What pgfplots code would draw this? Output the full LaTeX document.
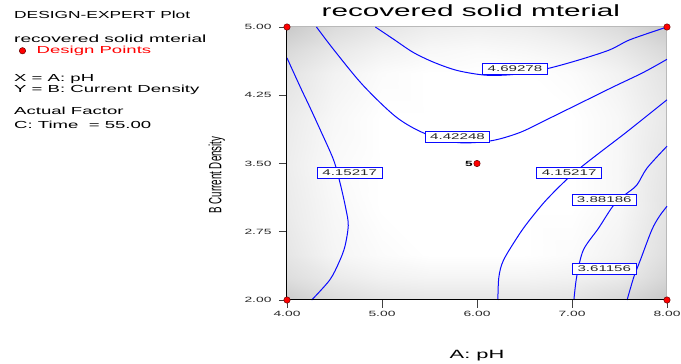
\documentclass[border=0pt]{standalone}
\usepackage{pgfplots}
\pgfplotsset{compat=1.18}
\usepackage{fontspec}
\setmainfont{Liberation Sans}
\newcommand\sx[1]{\scalebox{1.82}[1]{#1}}
\definecolor{cblue}{RGB}{10,10,255}
\tikzset{lbl/.style={draw=cblue, fill=white, line width=0.7pt, inner xsep=5pt, inner ysep=1pt, minimum height=11pt, text=black!85}}
\pgfplotstableread{
x y v
4 2 0.80
4.5 2 0.86
5 2 0.89
5.5 2 0.90
6 2 0.90
6.5 2 0.90
7 2 0.89
7.5 2 0.85
8 2 0.78

4 2.25 0.87
4.5 2.25 0.92
5 2.25 0.95
5.5 2.25 0.96
6 2.25 0.96
6.5 2.25 0.96
7 2.25 0.95
7.5 2.25 0.92
8 2.25 0.84

4 2.5 0.90
4.5 2.5 0.96
5 2.5 0.985
5.5 2.5 1
6 2.5 1
6.5 2.5 1
7 2.5 0.985
7.5 2.5 0.95
8 2.5 0.87

4 3 0.92
4.5 3 0.97
5 3 1
5.5 3 1
6 3 1
6.5 3 1
7 3 1
7.5 3 0.97
8 3 0.89

4 3.5 0.93
4.5 3.5 0.98
5 3.5 1
5.5 3.5 1
6 3.5 1
6.5 3.5 1
7 3.5 1
7.5 3.5 0.97
8 3.5 0.90

4 4 0.92
4.5 4 0.97
5 4 1
5.5 4 1
6 4 1
6.5 4 1
7 4 1
7.5 4 0.97
8 4 0.91

4 4.5 0.89
4.5 4.5 0.95
5 4.5 0.985
5.5 4.5 1
6 4.5 1
6.5 4.5 1
7 4.5 0.985
7.5 4.5 0.95
8 4.5 0.89

4 4.75 0.85
4.5 4.75 0.91
5 4.75 0.95
5.5 4.75 0.97
6 4.75 0.98
6.5 4.75 0.97
7 4.75 0.95
7.5 4.75 0.91
8 4.75 0.85

4 5 0.79
4.5 5 0.86
5 5 0.90
5.5 5 0.93
6 5 0.94
6.5 5 0.93
7 5 0.90
7.5 5 0.86
8 5 0.79
}\bgtable
\begin{document}
\begin{tikzpicture}[x=1pt,y=1pt]
\path[use as bounding box] (0,0) rectangle (681,364);
\begin{axis}[
  at={(287pt,64pt)}, anchor=south west,
  width=380pt, height=273pt, scale only axis,
  xmin=4, xmax=8, ymin=2, ymax=5,
  xtick={4,5,6,7,8}, ytick={2,2.75,3.5,4.25,5},
  axis lines*=left,
  axis line style={black, line width=1pt},
  tick align=outside,
  major tick length=8pt,
  tick style={black!75, line width=0.9pt},
  /pgf/number format/assume math mode=true,
  xticklabel={\sx{\fontsize{7.6}{8}\selectfont\pgfmathprintnumber[fixed,fixed zerofill,precision=2]{\tick}}},
  yticklabel={\sx{\fontsize{7.6}{8}\selectfont\pgfmathprintnumber[fixed,fixed zerofill,precision=2]{\tick}}},
  ticklabel style={text=black!85},
  yticklabel style={xshift=-4pt},
  xlabel={\sx{\fontsize{12}{12}\selectfont A: pH}},
  xlabel style={at={(axis description cs:0.5,-0.216)}, anchor=base},
  ylabel={\scalebox{0.55}[1]{\fontsize{17.7}{18}\selectfont B Current Density}},
  ylabel style={at={(axis description cs:-0.185,0.458)}, anchor=center},
  title={\sx{\fontsize{16.3}{16}\selectfont recovered solid mterial}},
  title style={at={(axis description cs:0.484,1.016)}, anchor=base},
  clip=false, axis on top,
  colormap={gr}{gray(0cm)=(0.75); gray(1cm)=(1)},
  point meta min=0.75, point meta max=1,
  legend style={at={(axis description cs:-0.705,0.913)}, anchor=west, draw=none, fill=none, inner sep=0pt},
]
\addplot[surf, shader=interp, mesh/cols=9, point meta=explicit, forget plot] table[x=x, y=y, meta=v] {\bgtable};
\draw[gray!55, line width=1pt] (rel axis cs:0,1) -- (rel axis cs:1,1) -- (rel axis cs:1,0);
% contours
\addplot[cblue, line width=1pt, smooth, tension=0.5, forget plot] coordinates {(4.93,5.0)(5.13,4.86)(5.33,4.72)(5.55,4.61)(5.8,4.52)(6.1,4.47)(6.4,4.48)(6.73,4.54)(7.08,4.64)(7.4,4.75)(7.61,4.86)(8.0,5.0)};
\addplot[cblue, line width=1pt, smooth, tension=0.5, forget plot] coordinates {(4.31,5.0)(4.5,4.74)(4.8,4.36)(5.15,4.01)(5.45,3.83)(5.8,3.73)(6.15,3.75)(6.45,3.84)(6.73,3.98)(7.1,4.17)(7.43,4.34)(7.75,4.5)(8.0,4.645)};
\addplot[cblue, line width=1pt, smooth, tension=0.5, forget plot] coordinates {(4.0,4.66)(4.14,4.34)(4.24,4.12)(4.35,3.87)(4.49,3.54)(4.56,3.28)(4.62,3.0)(4.645,2.82)(4.61,2.59)(4.55,2.42)(4.45,2.22)(4.26,2.0)};
\addplot[cblue, line width=1pt, smooth, tension=0.5, forget plot] coordinates {(8.0,4.2)(7.58,3.85)(7.33,3.65)(7.12,3.48)(6.94,3.32)(6.73,3.10)(6.57,2.9)(6.45,2.73)(6.28,2.44)(6.23,2.25)(6.22,2.0)};
\addplot[cblue, line width=1pt, smooth, tension=0.5, forget plot] coordinates {(8.0,3.69)(7.79,3.45)(7.68,3.26)(7.55,3.15)(7.43,3.03)(7.28,2.79)(7.12,2.55)(7.05,2.26)(7.02,2.0)};
\addplot[cblue, line width=1pt, smooth, tension=0.5, forget plot] coordinates {(8.0,3.03)(7.92,2.92)(7.84,2.77)(7.72,2.44)(7.65,2.25)(7.58,2.0)};
% labels
\node[lbl] at (axis cs:6.4,4.54) {\sx{\fontsize{8.3}{9}\selectfont 4.69278}};
\node[lbl] at (axis cs:5.795,3.79) {\sx{\fontsize{8.3}{9}\selectfont 4.42248}};
\node[lbl] at (axis cs:4.66,3.40) {\sx{\fontsize{8.3}{9}\selectfont 4.15217}};
\node[lbl] at (axis cs:6.97,3.40) {\sx{\fontsize{8.3}{9}\selectfont 4.15217}};
\node[lbl] at (axis cs:7.34,3.10) {\sx{\fontsize{8.3}{9}\selectfont 3.88186}};
\node[lbl] at (axis cs:7.34,2.343) {\sx{\fontsize{8.3}{9}\selectfont 3.61156}};
% design points
\addplot[only marks, mark=*, mark size=3.2pt, mark options={fill=red, draw=red!40!black, line width=0.5pt}] coordinates {(4,2)(4,5)(8,2)(8,5)(6,3.5)};
\addlegendentry{\hspace{9pt}\color{red}\sx{\fontsize{10.2}{10}\selectfont Design Points}}
\node[anchor=east, inner sep=0pt, xshift=-4pt] at (axis cs:6,3.5) {\sx{\fontsize{7.5}{8}\selectfont\bfseries 5}};
\end{axis}
\begin{scope}[every node/.style={anchor=base west, inner sep=0pt}]
\node at (14,345) {\scalebox{1.7}[1]{\fontsize{10.2}{10}\selectfont DESIGN-EXPERT Plot}};
\node at (14,321) {\sx{\fontsize{10.5}{10}\selectfont recovered solid mterial}};
\node at (14,282.3) {\sx{\fontsize{10.2}{10}\selectfont X = A: pH}};
\node at (14,271.7) {\sx{\fontsize{10.2}{10}\selectfont Y = B: Current Density}};
\node at (14,249) {\sx{\fontsize{10.2}{10}\selectfont Actual Factor}};
\node at (14,235.7) {\sx{\fontsize{10.2}{10}\selectfont C: Time \ = 55.00}};
\end{scope}
\end{tikzpicture}
\end{document}
